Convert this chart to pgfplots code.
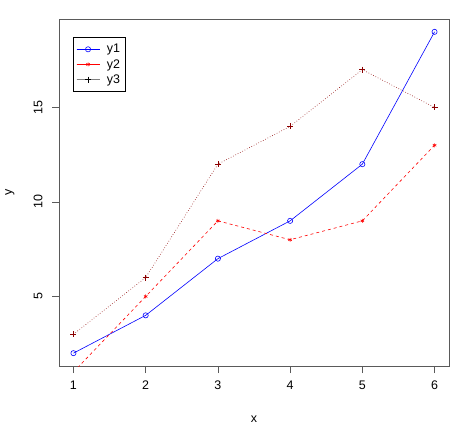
\documentclass[border=0pt]{standalone}
\usepackage{fontspec}
\setmainfont{Liberation Sans}
\usepackage{pgfplots}
\pgfplotsset{compat=1.18}
\definecolor{rblue}{RGB}{0,0,255}
\definecolor{rred}{RGB}{255,0,0}
\definecolor{rdarkred}{RGB}{139,0,0}
\definecolor{framegray}{RGB}{90,90,90}
\begin{document}
\begin{tikzpicture}[x=1bp,y=1bp]
\useasboundingbox (0,0) rectangle (465,428);
\begin{axis}[
    at={(59bp,62bp)}, anchor=south west,
    scale only axis,
    width=390bp, height=347bp,
    xmin=0.8, xmax=6.2, ymin=1.32, ymax=19.68,
    xtick={1,2,3,4,5,6}, ytick={5,10,15},
    tick align=outside, major tick length=7bp,
    axis line style={framegray, line width=0.8pt},
    every tick/.style={framegray, line width=0.6pt},
    tick style={framegray},
    xtick pos=bottom, ytick pos=left,
    tick label style={font=\fontsize{12.5}{14}\selectfont},
    /pgf/number format/assume math mode=true,
    yticklabel style={rotate=90, anchor=south},
    yticklabel shift=6bp,
    xticklabel shift=4bp,
    xlabel={x}, ylabel={y},
    every axis x label/.style={at={(rel axis cs:0.5,0)}, yshift=-53bp, anchor=center,
        font=\fontsize{12.5}{14}\selectfont},
    every axis y label/.style={at={(rel axis cs:0,0.5)}, xshift=-49bp, rotate=90, anchor=center,
        font=\fontsize{12.5}{14}\selectfont},
    clip=true,
    legend style={at={(14bp,335bp)}, anchor=north west, draw=black, line width=0.5pt,
        font=\fontsize{12.5}{14}\selectfont, row sep=1bp, inner xsep=3bp, inner ysep=5bp,
        /tikz/every odd column/.append style={column sep=5bp}},
    legend cell align=left,
    legend image code/.code={
        \draw[#1] (0bp,0bp) -- (23bp,0bp);
        \draw[#1, solid, mark repeat=2, mark phase=2] plot coordinates {(0bp,0bp) (11.5bp,0bp) (23bp,0bp)};
    },
]
\addplot[rblue, line width=0.6pt, mark=o, mark size=2.6bp, mark options={solid}, forget plot]
  coordinates {(1,2) (2,4) (3,7) (4,9) (5,12) (6,19)};
\addplot[rred, dashed, line width=0.6pt, mark=asterisk, mark size=2bp, mark options={solid}, forget plot]
  coordinates {(1,1) (2,5) (3,9) (4,8) (5,9) (6,13)};
\addplot[rdarkred, dotted, line width=0.6pt, mark=+, mark size=3bp, mark options={solid}, forget plot]
  coordinates {(1,3) (2,6) (3,12) (4,14) (5,17) (6,15)};
\addlegendimage{rblue, line width=0.6pt, mark=o, mark size=2.6bp}
\addlegendentry{y1}
\addlegendimage{rred, dashed, line width=0.6pt, mark=asterisk, mark size=2bp}
\addlegendentry{y2}
\addlegendimage{gray, dotted, line width=0.6pt, mark=+, mark size=3bp, mark options={black}}
\addlegendentry{y3}
\end{axis}
\end{tikzpicture}
\end{document}
